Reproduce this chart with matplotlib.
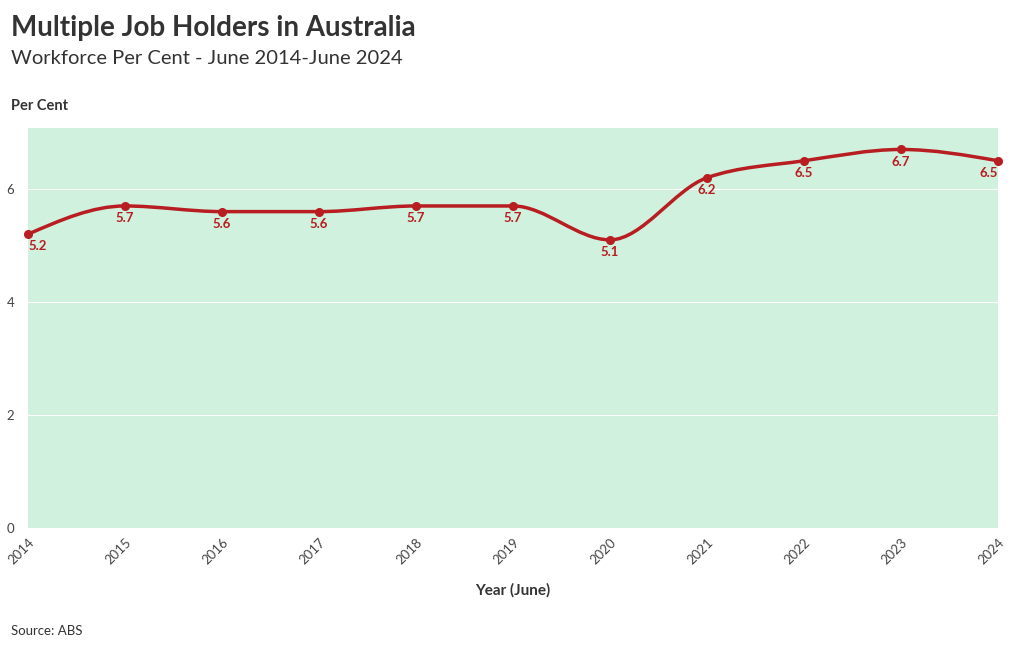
import matplotlib.pyplot as plt
import numpy as np
from matplotlib.path import Path
from matplotlib.patches import PathPatch

plt.rcParams['font.family'] = ['Lato', 'DejaVu Sans']

# Data
years = [2014, 2015, 2016, 2017, 2018, 2019, 2020, 2021, 2022, 2023, 2024]
per_cent = [5.2, 5.7, 5.6, 5.6, 5.7, 5.7, 5.1, 6.2, 6.5, 6.7, 6.5]
y_ticks = [0, 2, 4, 6]

LINE = '#B81D22'
BG = '#CFF1DD'
TXT = '#333333'


def monotone_path(x, y):
    """Monotone cubic (same idea as d3.curveMonotoneX) through the points."""
    x = np.asarray(x, float)
    y = np.asarray(y, float)
    n = len(x)
    h = np.diff(x)
    s = np.diff(y) / h
    t = np.zeros(n)
    for i in range(1, n - 1):
        p = (s[i - 1] * h[i] + s[i] * h[i - 1]) / (h[i - 1] + h[i])
        t[i] = (np.sign(s[i - 1]) + np.sign(s[i])) * min(abs(s[i - 1]), abs(s[i]), 0.5 * abs(p))
    t[0] = (3 * s[0] - t[1]) / 2
    t[-1] = (3 * s[-1] - t[-2]) / 2

    verts = [(x[0], y[0])]
    codes = [Path.MOVETO]
    for i in range(n - 1):
        dx = h[i] / 3
        verts += [(x[i] + dx, y[i] + dx * t[i]),
                  (x[i + 1] - dx, y[i + 1] - dx * t[i + 1]),
                  (x[i + 1], y[i + 1])]
        codes += [Path.CURVE4] * 3
    return Path(verts, codes)


fig = plt.figure(figsize=(10.2, 6.5), dpi=100)
ax = fig.add_axes([28 / 1020, 1 - 528 / 650, 970 / 1020, 400 / 650])
ax.set_facecolor(BG)
ax.set_xlim(years[0], years[-1])
ax.set_ylim(0, 7.08)

ax.add_patch(PathPatch(monotone_path(years, per_cent), facecolor='none',
                       edgecolor=LINE, linewidth=2.5, zorder=3))
ax.plot(years, per_cent, 'o', color=LINE, markersize=5.5, zorder=4, clip_on=False)

for i, (xv, yv) in enumerate(zip(years, per_cent)):
    ha = 'left' if i == 0 else ('right' if i == len(years) - 1 else 'center')
    ax.annotate('{:.1f}'.format(yv), (xv, yv), xytext=(0, -4.5), textcoords='offset points',
                ha=ha, va='top', fontsize=9.5, fontweight='bold', color=LINE)

ax.set_yticks(y_ticks)
ax.set_xticks(years)
ax.set_xticklabels([str(y) for y in years], rotation=45, ha='right',
                   rotation_mode='anchor')
ax.grid(axis='y', color='white', linewidth=0.8)
ax.set_axisbelow(True)
for s in ax.spines.values():
    s.set_visible(False)
ax.tick_params(axis='both', length=0, colors='#444444', labelsize=9.5)
ax.tick_params(axis='y', pad=10)
ax.tick_params(axis='x', pad=6)

fig.text(11 / 1020, 1 - 28 / 650, 'Multiple Job Holders in Australia', fontsize=20,
         fontweight='bold', color=TXT, va='center')
fig.text(11 / 1020, 1 - 58 / 650, 'Workforce Per Cent - June 2014-June 2024', fontsize=14.5,
         color=TXT, va='center')
fig.text(11 / 1020, 1 - 106 / 650, 'Per Cent', fontsize=10.5, fontweight='bold',
         color=TXT, va='center')
fig.text(513 / 1020, 1 - 590 / 650, 'Year (June)', fontsize=11, fontweight='bold',
         color=TXT, ha='center', va='center')
fig.text(11 / 1020, 1 - 631 / 650, 'Source: ABS', fontsize=9.5, color=TXT, va='center')

fig.savefig('out.png', dpi=100, facecolor='white')
